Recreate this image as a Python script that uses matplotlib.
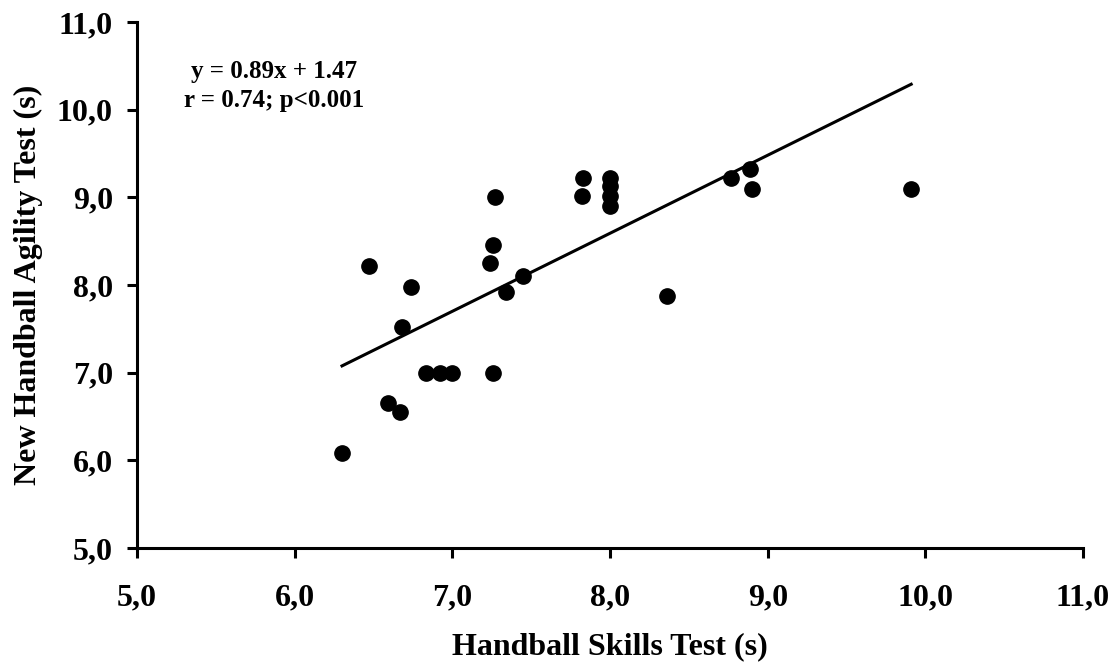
import matplotlib.pyplot as plt
from matplotlib.ticker import FuncFormatter

# Handball Skills Test (s) vs New Handball Agility Test (s)
skills = [6.30, 6.47, 6.74, 6.68, 6.83, 6.92, 7.00, 7.26, 6.59, 6.67,
          7.24, 7.26, 7.45, 7.34, 7.27, 7.83, 7.82, 8.00, 8.00, 8.00,
          8.00, 8.77, 8.89, 8.90, 8.36, 9.91]
agility = [6.08, 8.22, 7.98, 7.52, 7.00, 7.00, 7.00, 7.00, 6.65, 6.55,
           8.25, 8.46, 8.10, 7.92, 9.00, 9.22, 9.01, 9.22, 9.13, 9.01,
           8.90, 9.22, 9.32, 9.10, 7.87, 9.10]
slope = 0.89
intercept = 1.47
ticks = [5, 6, 7, 8, 9, 10, 11]

plt.rcParams['font.family'] = ['Liberation Serif', 'DejaVu Serif']
plt.rcParams['font.weight'] = 'bold'

fig = plt.figure(figsize=(11.17, 6.66), dpi=100)
ax = fig.add_axes([0.1227, 0.1772, 0.8469, 0.7898])

ax.plot(skills, agility, 'o', color='black', markersize=11)

x0, x1 = min(skills), max(skills)
ax.plot([x0, x1], [slope * x0 + intercept, slope * x1 + intercept], color='black', lw=2.2)

ax.set_xlim(5, 11)
ax.set_ylim(5, 11)
ax.set_xticks(ticks)
ax.set_yticks(ticks)
fmt = FuncFormatter(lambda v, p: ('%.1f' % v).replace('.', ','))
ax.xaxis.set_major_formatter(fmt)
ax.yaxis.set_major_formatter(fmt)

for s in ['top', 'right']:
    ax.spines[s].set_visible(False)
for s in ['left', 'bottom']:
    ax.spines[s].set_linewidth(2.2)
ax.tick_params(direction='out', length=7, width=2.2, labelsize=23)
ax.tick_params(axis='x', pad=18.5)
ax.tick_params(axis='y', pad=10.5)
for lab in ax.get_xticklabels() + ax.get_yticklabels():
    lab.set_fontweight('bold')

ax.set_xlabel('Handball Skills Test (s)', fontsize=23, fontweight='bold', labelpad=14)
ax.set_ylabel('New Handball Agility Test (s)', fontsize=23, fontweight='bold', labelpad=10)

ax.text(5.87, 10.27, 'y = 0.89x + 1.47\nr = 0.74; p<0.001', ha='center', va='center',
        fontsize=18, fontweight='bold', linespacing=1.3)

fig.savefig('out.png', dpi=100)
